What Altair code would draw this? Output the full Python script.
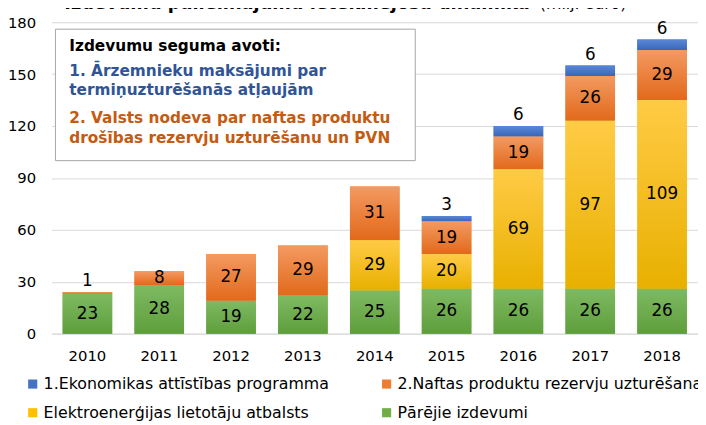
import altair as alt
import pandas as pd

years = ["2010", "2011", "2012", "2013", "2014", "2015", "2016", "2017", "2018"]
blue = [0, 0, 0, 0, 0, 3, 6, 6, 6]
orange = [1, 8, 27, 29, 31, 19, 19, 26, 29]
yellow = [0, 0, 0, 0, 29, 20, 69, 97, 109]
green = [23, 28, 19, 22, 25, 26, 26, 26, 26]

s_blue = "1.Ekonomikas attīstības programma"
s_orange = "2.Naftas produktu rezervju uzturēšana"
s_yellow = "Elektroenerģijas lietotāju atbalsts"
s_green = "Pārējie izdevumi"
series_order = [s_blue, s_orange, s_yellow, s_green]
colors = ["#4472C4", "#ED7D31", "#FFC000", "#70AD47"]
grad_top = {s_blue: "#5A88D8", s_orange: "#F39A62", s_yellow: "#FFCB45", s_green: "#7FBA62"}
grad_bot = {s_blue: "#3A66B8", s_orange: "#E2691A", s_yellow: "#E8B000", s_green: "#5E9E3C"}

title_bold = "Izdevumu palielinājumu ietekmējošā dinamika"
title_reg = "(milj. euro)"
box_head = "Izdevumu seguma avoti:"
box_blue = ["1. Ārzemnieku maksājumi par", "termiņuzturēšanās atļaujām"]
box_orange = ["2. Valsts nodeva par naftas produktu", "drošības rezervju uzturēšanu un PVN"]

FONT = "DejaVu Sans"

rows = []
for i, y in enumerate(years):
    base = 0
    for name, vals in [(s_green, green), (s_yellow, yellow), (s_orange, orange), (s_blue, blue)]:
        v = vals[i]
        if v > 0:
            above = (name == s_blue) or v < 5
            rows.append({
                "year": y, "series": name, "value": v,
                "start": base, "end": base + v,
                "ly": (base + v) if above else (base + v / 2),
                "above": above,
            })
            base += v
df = pd.DataFrame(rows)

W, H = 654, 315

xenc = alt.X("year:N", scale=alt.Scale(paddingInner=0.31, paddingOuter=0.155),
             axis=alt.Axis(title=None, labelAngle=0, ticks=False, domainColor="#d9d9d9",
                           labelFont=FONT, labelFontSize=15, labelColor="#000000",
                           labelPadding=15))
yscale = alt.Scale(domain=[0, 180])

base = alt.Chart(df)

bars = base.mark_bar(stroke=None).encode(
    x=xenc,
    y=alt.Y("start:Q", scale=yscale,
            axis=alt.Axis(title=None, values=[0, 30, 60, 90, 120, 150, 180], ticks=False,
                          domain=False, gridColor="#d9d9d9", labelFont=FONT, labelFontSize=15,
                          labelColor="#000000", labelPadding=16)),
    y2="end:Q",
    color=alt.Color("series:N", scale=alt.Scale(domain=series_order, range=colors),
                    legend=alt.Legend(title=None, orient="none", legendX=-27, legendY=358,
                                      direction="horizontal", columns=2, symbolType="square",
                                      symbolSize=85, symbolStrokeWidth=0, labelFont=FONT,
                                      labelFontSize=16, labelColor="#000000", labelLimit=500,
                                      labelOffset=3, columnPadding=50, rowPadding=13)),
)

grad_layers = []
for s in series_order:
    g = alt.Gradient(gradient="linear",
                     stops=[alt.GradientStop(color=grad_top[s], offset=0),
                            alt.GradientStop(color=grad_bot[s], offset=1)],
                     x1=0, x2=0, y1=0, y2=1)
    grad_layers.append(
        base.transform_filter(alt.datum.series == s).mark_bar(fill=g, stroke=None).encode(
            x="year:N", y=alt.Y("start:Q", scale=yscale), y2="end:Q"))

lab_in = base.transform_filter("!datum.above").mark_text(
    font=FONT, fontSize=17, color="#000000", baseline="middle").encode(
    x="year:N", y=alt.Y("ly:Q", scale=yscale), text="value:Q")
lab_out = base.transform_filter("datum.above").mark_text(
    font=FONT, fontSize=17, color="#000000", baseline="middle", dy=-11).encode(
    x="year:N", y=alt.Y("ly:Q", scale=yscale), text="value:Q")

ann = pd.DataFrame({"k": [0]})
abase = alt.Chart(ann)
box = abase.mark_rect(fill="white", stroke="#a6a6a6", strokeWidth=1).encode(
    x=alt.value(4), x2=alt.value(368), y=alt.value(7), y2=alt.value(140))

def txt(s, x, y, color, bold=True, size=15.5):
    return abase.mark_text(text=s, font=FONT, fontSize=size,
                           fontWeight="bold" if bold else "normal", color=color,
                           align="left", baseline="middle").encode(
        x=alt.value(x), y=alt.value(y))

t_head = txt(box_head, 18, 24, "#000000")
t_b1 = txt(box_blue[0], 18, 49, "#2F5597")
t_b2 = txt(box_blue[1], 18, 69, "#2F5597")
t_o1 = txt(box_orange[0], 18, 97, "#C55A11")
t_o2 = txt(box_orange[1], 18, 117, "#C55A11")

ttl1 = abase.mark_text(text=title_bold, font=FONT, fontSize=18, fontWeight="bold",
                       color="#000000", align="left", baseline="alphabetic").encode(
    x=alt.value(13), y=alt.value(-13))
ttl2 = abase.mark_text(text=title_reg, font=FONT, fontSize=16, color="#000000",
                       align="left", baseline="alphabetic").encode(
    x=alt.value(494), y=alt.value(-13))

chart = alt.layer(bars, *grad_layers, lab_in, lab_out, box, t_head, t_b1, t_b2, t_o1, t_o2,
                  ttl1, ttl2).properties(
    width=W, height=H,
    autosize=alt.AutoSizeParams(type="none"),
    padding={"left": 44, "top": 12, "right": 0, "bottom": 90},
).configure_view(stroke=None)

chart.save("out.html", embed_options={"renderer": "svg", "actions": False})
